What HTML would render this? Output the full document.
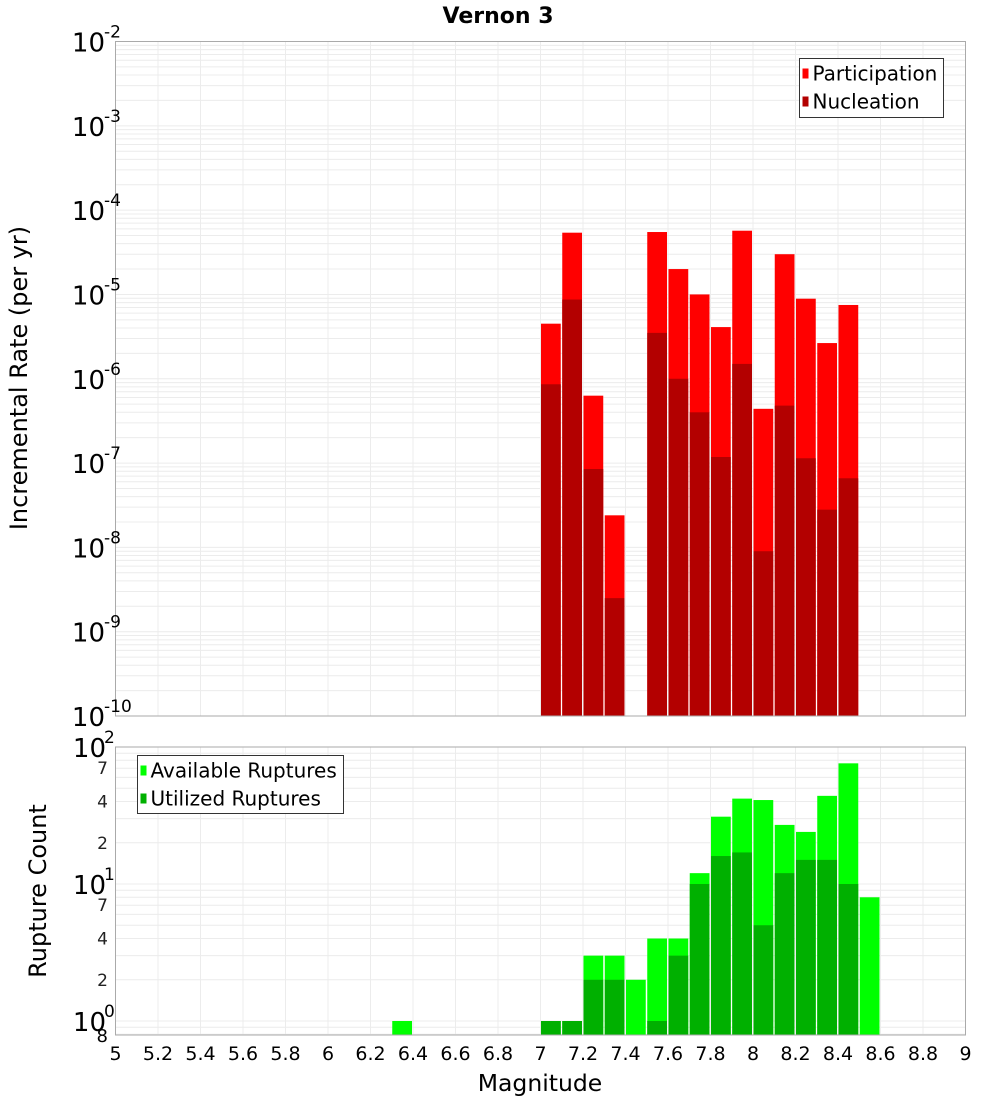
<!DOCTYPE html>
<html><head><meta charset="utf-8">
<style>
html,body{margin:0;padding:0;background:#fff;}
svg{display:block;font-family:"DejaVu Sans","Liberation Sans",sans-serif;}
</style></head>
<body>
<svg id="chart" width="1000" height="1100" viewBox="0 0 1000 1100" xmlns="http://www.w3.org/2000/svg"></svg>
<script>
const binStarts = [7.0,7.1,7.2,7.3,7.5,7.6,7.7,7.8,7.9,8.0,8.1,8.2,8.3,8.4];
const participation = [4.5e-6,5.4e-5,6.3e-7,2.4e-8,5.5e-5,2.0e-5,1.0e-5,4.1e-6,5.7e-5,4.4e-7,3.0e-5,8.9e-6,2.65e-6,7.5e-6];
const nucleation = [8.6e-7,8.7e-6,8.5e-8,2.5e-9,3.5e-6,1.0e-6,4.0e-7,1.18e-7,1.5e-6,9e-9,4.8e-7,1.14e-7,2.8e-8,6.6e-8];
const countBins = [6.3,7.0,7.1,7.2,7.3,7.4,7.5,7.6,7.7,7.8,7.9,8.0,8.1,8.2,8.3,8.4,8.5];
const available = [1,1,1,3,3,2,4,4,12,31,42,41,27,24,44,76,8];
const utilized = [0,1,1,2,2,0,1,3,10,16,17,5,12,15,15,10,0];
const xTicks = ["5","5.2","5.4","5.6","5.8","6","6.2","6.4","6.6","6.8","7","7.2","7.4","7.6","7.8","8","8.2","8.4","8.6","8.8","9"];
const topExps = [-2,-3,-4,-5,-6,-7,-8,-9,-10];
const botMinorLabels = [2,4,7];

const NS="http://www.w3.org/2000/svg";
const svg=document.getElementById('chart');
function mk(tag,attrs,parent){const e=document.createElementNS(NS,tag);for(const k in attrs)e.setAttribute(k,attrs[k]);(parent||svg).appendChild(e);return e;}
const L=115.5,R=965.5;
const xs=m=>L+(m-5)/4*(R-L);
const T1=41.5,B1=716;
const yTop=v=>T1+(-2-Math.log10(v))*(B1-T1)/8;
const T2=747,B2=1035,dec2=137;
const yBot=v=>T2+(2-Math.log10(v))*dec2;

function grid(top,bottom,yf,lo,hi){
  for(let e=lo;e<hi;e++){for(let k=1;k<10;k++){const v=k*Math.pow(10,e);const y=yf(v);if(y<top-0.1||y>bottom+0.1)continue;
    const g=mk('line',{x1:L,x2:R,y1:y,y2:y,stroke:'#ececec','stroke-width':1});
    }}
  xTicks.forEach(t=>{const x=xs(+t);const g=mk('line',{x1:x,x2:x,y1:top,y2:bottom,stroke:'#ececec','stroke-width':1});
    });
}
grid(T1,B1,yTop,-10,-2);
grid(T2,B2,yBot,-1,2);

const bw=(R-L)/40;
binStarts.forEach((b,i)=>{
  const x=xs(b)+0.5,w=bw-1.5;
  let y=yTop(participation[i]);
  const p=mk('rect',{x:x,y:y,width:w,height:B1-y,fill:'#ff0000'});
  
  y=yTop(nucleation[i]);
  const n=mk('rect',{x:x,y:y,width:w,height:B1-y,fill:'#b30000'});
  
});
countBins.forEach((b,i)=>{
  const x=xs(b)+0.5,w=bw-1.5;
  if(available[i]>0){const y=yBot(available[i]);
    const a=mk('rect',{x:x,y:y,width:w,height:B2-y,fill:'#00ff00'});
    }
  if(utilized[i]>0){const y=yBot(utilized[i]);
    const u=mk('rect',{x:x,y:y,width:w,height:B2-y,fill:'#00b000'});
    }
});

let f=mk('rect',{x:L,y:T1,width:R-L,height:B1-T1,fill:'none',stroke:'#aaa','stroke-width':1});

f=mk('rect',{x:L,y:T2,width:R-L,height:B2-T2,fill:'none',stroke:'#aaa','stroke-width':1});


topExps.forEach(e=>{
  const y=yTop(Math.pow(10,e));
  const t=mk('text',{x:105,y:y+10,'text-anchor':'end','font-size':26,fill:'#000'});
  
  t.textContent='10';
  const s=mk('text',{x:104,y:y-4,'text-anchor':'start','font-size':17,fill:'#000'});
  
  s.textContent=String(e);
});
[0,1,2].forEach(e=>{
  const y=yBot(Math.pow(10,e));
  const t=mk('text',{x:106,y:y+10,'text-anchor':'end','font-size':26,fill:'#000'});
  
  t.textContent='10';
  const s=mk('text',{x:104,y:y-4,'text-anchor':'start','font-size':17,fill:'#000'});
  
  s.textContent=String(e);
});
[0,1].forEach(e=>{botMinorLabels.forEach(k=>{
  const y=yBot(k*Math.pow(10,e));
  const t=mk('text',{x:108,y:y+6,'text-anchor':'end','font-size':17,fill:'#222'});
  
  t.textContent=String(k);
});});
let t8=mk('text',{x:108,y:1042,'text-anchor':'end','font-size':18,fill:'#000'});

t8.textContent='8';

xTicks.forEach(t=>{
  const e=mk('text',{x:xs(+t),y:1060,'text-anchor':'middle','font-size':19,fill:'#000'});
  
  e.textContent=t;
});

let tt=mk('text',{x:498,y:23,'text-anchor':'middle','font-size':22,'font-weight':'bold',fill:'#000'});
tt.textContent='Vernon 3';
tt=mk('text',{x:540,y:1091,'text-anchor':'middle','font-size':23.5,fill:'#000'});
tt.textContent='Magnitude';
tt=mk('text',{x:0,y:0,'text-anchor':'middle','font-size':24,fill:'#000',transform:'translate(27,378) rotate(-90)'});
tt.textContent='Incremental Rate (per yr)';
tt=mk('text',{x:0,y:0,'text-anchor':'middle','font-size':24,fill:'#000',transform:'translate(46,891) rotate(-90)'});
tt.textContent='Rupture Count';

function legend(x,y,w,h,items,name){
  const g=mk('g',{});
  mk('rect',{x:x,y:y,width:w,height:h,fill:'#fff',stroke:'#333','stroke-width':1},g);
  items.forEach((it,i)=>{
    const cy=y+15+i*28;
    const sw=mk('rect',{x:x+3,y:cy-5,width:6,height:10,fill:it[1]},g);
    
    const tx=mk('text',{x:x+13,y:cy+7,'font-size':20,fill:'#000'},g);
    
    tx.textContent=it[0];
  });
}
legend(799.5,58.5,144,59,[['Participation','#ff0000'],['Nucleation','#b30000']],'rate-legend');
legend(137.5,755.5,206,58,[['Available Ruptures','#00ff00'],['Utilized Ruptures','#00b000']],'count-legend');
</script>
</body></html>
